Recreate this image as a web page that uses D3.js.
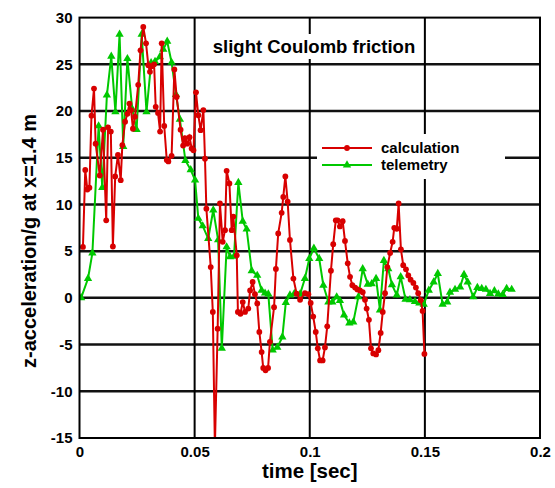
<!DOCTYPE html>
<html><head><meta charset="utf-8">
<script src="https://cdn.jsdelivr.net/npm/d3@7"></script>
<style>body{margin:0;background:#fff} text{font-family:"Liberation Sans",Arial,sans-serif;font-weight:bold}</style>
</head><body><svg id="c" width="555" height="488"></svg>
<script>
const calcTime = [0.0015,0.0025,0.0034,0.0043,0.0052,0.0063,0.0070,0.0088,0.0102,0.0116,0.0124,0.0136,0.0145,0.0155,0.0167,0.0179,0.0186,0.0198,0.0208,0.0217,0.0224,0.0232,0.0241,0.0255,0.0265,0.0277,0.0289,0.0299,0.0306,0.0315,0.0324,0.0331,0.0341,0.0350,0.0357,0.0368,0.0379,0.0386,0.0400,0.0412,0.0422,0.0439,0.0450,0.0458,0.0468,0.0478,0.0487,0.0495,0.0506,0.0516,0.0526,0.0538,0.0545,0.0551,0.0570,0.0579,0.0588,0.0600,0.0610,0.0622,0.0632,0.0639,0.0651,0.0661,0.0668,0.0683,0.0688,0.0699,0.0709,0.0719,0.0733,0.0741,0.0752,0.0762,0.0772,0.0781,0.0791,0.0798,0.0808,0.0819,0.0827,0.0845,0.0853,0.0863,0.0878,0.0885,0.0894,0.0904,0.0914,0.0929,0.0943,0.0958,0.0979,0.0994,0.1004,0.1015,0.1026,0.1035,0.1045,0.1056,0.1066,0.1076,0.1092,0.1102,0.1113,0.1121,0.1131,0.1143,0.1153,0.1165,0.1175,0.1185,0.1197,0.1207,0.1218,0.1230,0.1240,0.1247,0.1257,0.1266,0.1276,0.1288,0.1298,0.1308,0.1317,0.1327,0.1337,0.1349,0.1360,0.1367,0.1378,0.1386,0.1396,0.1406,0.1418,0.1428,0.1438,0.1450,0.1461,0.1471,0.1482,0.1490,0.1498];
const calcAccel = [5.45,13.7,11.6,11.8,19.5,22.4,16.5,13.1,18.0,8.3,18.25,17.8,5.5,13.0,15.3,12.6,16.35,18.85,19.7,20.8,20.1,18.1,19.4,22.8,26.5,29.0,27.25,24.9,24.2,24.8,25.0,20.45,19.8,17.8,27.25,18.4,14.75,14.6,15.2,24.45,21.5,18.0,16.3,17.1,16.5,17.2,16.0,15.8,22.0,19.55,17.95,20.1,14.9,9.55,3.3,-1.5,-16,-3.3,10.1,6.0,7.25,13.6,12.25,7.25,8.7,4.55,-1.5,-1.7,-0.45,-1.5,-1.15,0.8,1.7,0.4,-0.6,-3.65,-5.8,-7.5,-7.75,-7.5,-4.7,-1.0,3.1,6.9,9.1,10.8,13.0,10.3,6.2,2.07,0.45,-0.2,0.5,0.4,-0.55,-2.0,-3.65,-5.4,-6.7,-6.7,-5.3,-3.05,2.9,5.75,8.3,8.3,7.65,8.2,6.1,3.7,2.25,1.35,1.1,0.9,0.8,0.6,-0.2,-1.15,-2.35,-5.4,-5.95,-6.05,-5.6,-3.75,-1.5,0.5,3.3,4.8,6.0,7.5,7.4,10.1,5.2,3.5,3.05,2.4,1.95,1.6,1.1,0.5,-0.25,-1.4,-6.0];
const telTime = [0.0007,0.0037,0.0056,0.0083,0.0099,0.0119,0.0138,0.0156,0.0174,0.0190,0.0208,0.0229,0.0248,0.0270,0.0291,0.0311,0.0328,0.0349,0.0364,0.0381,0.0400,0.0419,0.0436,0.0460,0.0483,0.0502,0.0516,0.0535,0.0559,0.0581,0.0602,0.0618,0.0639,0.0654,0.0671,0.0690,0.0709,0.0726,0.0748,0.0772,0.0791,0.0806,0.0820,0.0839,0.0859,0.0881,0.0896,0.0914,0.0933,0.0958,0.0979,0.0998,0.1018,0.1041,0.1059,0.1081,0.1098,0.1117,0.1131,0.1149,0.1172,0.1189,0.1211,0.1230,0.1252,0.1269,0.1288,0.1305,0.1322,0.1341,0.1357,0.1378,0.1395,0.1416,0.1435,0.1457,0.1476,0.1495,0.1517,0.1538,0.1556,0.1577,0.1597,0.1609,0.1631,0.1653,0.1670,0.1686,0.1710,0.1728,0.1747,0.1765,0.1783,0.1802,0.1819,0.1838,0.1855,0.1877];
const telAccel = [0,2.07,4.8,18.4,11.8,21.7,25.85,19.9,28.2,16.2,25.6,20.2,18.0,28.2,19.9,25.15,25.3,25.8,26.6,27.45,25.2,21.75,19.1,14.7,13.7,12.6,8.5,7.7,6.35,9.4,6.2,-5.4,5.45,4.4,4.45,12.35,8.2,7.35,2.9,2.4,0.8,0.5,0.4,-5.6,-5.3,-4.2,-0.5,0.3,0.45,0.4,2.07,4.2,5.3,4.2,1.35,-0.45,-0.45,0.1,-0.3,-1.85,-2.7,-2.6,0.1,3.1,1.45,1.5,2.07,-1.3,4.0,3.1,1.4,0.3,2.25,-0.15,-0.2,-0.4,-0.55,-0.7,0.8,1.7,2.6,-0.7,-0.45,0.6,0.9,1.15,2.5,1.7,0.1,1.1,1.0,0.9,0.45,0.75,0.4,0.35,1.0,0.9];
const xTicks = [0,0.05,0.1,0.15,0.2];
const xTickLabels = ["0","0.05","0.1","0.15","0.2"];
const yTicks = [-15,-10,-5,0,5,10,15,20,25,30];
const yTickLabels = ["-15","-10","-5","0","5","10","15","20","25","30"];
const seriesNames = ["calculation","telemetry"];
const titleText = "slight Coulomb friction";
const xTitle = "time [sec]";
const yTitle = "z-acceleration/g at x=1.4 m";

const svg = d3.select("#c");
const L=79.5, R=540, T=17.6, B=438;
const x = d3.scaleLinear().domain([0,0.2]).range([L,R]);
const y = d3.scaleLinear().domain([-15,30]).range([B,T]);
const red = "#d80000", green = "#00c800";

// grid
svg.append("g").selectAll("line").data(yTicks.slice(1,-1)).join("line")
  .attr("x1",L).attr("x2",R).attr("y1",d=>y(d)).attr("y2",d=>y(d))
  .attr("stroke","#111").attr("stroke-width",2.5);
svg.append("g").selectAll("line").data(xTicks.slice(1,-1)).join("line")
  .attr("y1",T).attr("y2",B).attr("x1",d=>x(d)).attr("x2",d=>x(d))
  .attr("stroke","#000").attr("stroke-width",2);

// axes labels via d3 axes
const xAxis = d3.axisBottom(x).tickValues(xTicks).tickFormat((d,i)=>xTickLabels[i]).tickSize(0).tickPadding(8);
const gx = svg.append("g").attr("transform",`translate(0,${B})`).call(xAxis);
gx.select(".domain").remove();
gx.selectAll("text").attr("font-size",15).attr("fill","#000").style("font-family","'Liberation Sans',Arial,sans-serif").style("font-weight","bold");
const yAxis = d3.axisLeft(y).tickValues(yTicks).tickFormat((d,i)=>yTickLabels[i]).tickSize(0).tickPadding(7);
const gy = svg.append("g").attr("transform",`translate(${L},0)`).call(yAxis);
gy.select(".domain").remove();
gy.selectAll("text").attr("font-size",15).attr("fill","#000").style("font-family","'Liberation Sans',Arial,sans-serif").style("font-weight","bold");

// clip
svg.append("clipPath").attr("id","clip").append("rect").attr("x",L).attr("y",T).attr("width",R-L).attr("height",B-T);
const plot = svg.append("g").attr("clip-path","url(#clip)");

const calc = calcTime.map((t,i)=>[t,calcAccel[i]]);
const tel = telTime.map((t,i)=>[t,telAccel[i]]);
const line = d3.line().x(d=>x(d[0])).y(d=>y(d[1]));

plot.append("path").datum(tel).attr("d",line).attr("fill","none").attr("stroke",green).attr("stroke-width",2);
plot.append("g").selectAll("path").data(tel).join("path")
  .attr("d",d3.symbol(d3.symbolTriangle,30)).attr("transform",d=>`translate(${x(d[0])},${y(d[1])})`).attr("fill",green);
plot.append("path").datum(calc).attr("d",line).attr("fill","none").attr("stroke",red).attr("stroke-width",2);
plot.append("g").selectAll("circle").data(calc).join("circle")
  .attr("cx",d=>x(d[0])).attr("cy",d=>y(d[1])).attr("r",2.9).attr("fill",red);

// title
const tg = svg.append("g");
const tbg = tg.append("rect").attr("fill","#fff");
const tt = tg.append("text").attr("x",314).attr("y",53).attr("text-anchor","middle").attr("font-size",18.5).text(titleText);
const bb = tt.node().getBBox();
tbg.attr("x",bb.x-4).attr("y",bb.y-2).attr("width",bb.width+8).attr("height",bb.height+4);

// legend
const lg = svg.append("g");
lg.append("rect").attr("x",317).attr("y",134).attr("width",188).attr("height",45).attr("fill","#fff");
const ly = [148,165];
lg.append("line").attr("x1",322).attr("x2",372).attr("y1",ly[0]).attr("y2",ly[0]).attr("stroke",red).attr("stroke-width",2);
lg.append("circle").attr("cx",347).attr("cy",ly[0]).attr("r",2.9).attr("fill",red);
lg.append("line").attr("x1",322).attr("x2",372).attr("y1",ly[1]).attr("y2",ly[1]).attr("stroke",green).attr("stroke-width",2);
lg.append("path").attr("d",d3.symbol(d3.symbolTriangle,30)).attr("transform",`translate(347,${ly[1]})`).attr("fill",green);
lg.selectAll("text").data(seriesNames).join("text").attr("x",381).attr("y",(d,i)=>ly[i]+5).attr("font-size",15).text(d=>d);

// frame
svg.append("rect").attr("x",L).attr("y",T).attr("width",R-L).attr("height",B-T).attr("fill","none").attr("stroke","#000").attr("stroke-width",2);

// axis titles
svg.append("text").attr("x",(L+R)/2).attr("y",478).attr("text-anchor","middle").attr("font-size",20.5).text(xTitle);
svg.append("text").attr("transform",`translate(36,241) rotate(-90)`).attr("text-anchor","middle").attr("font-size",20).text(yTitle);
</script></body></html>
